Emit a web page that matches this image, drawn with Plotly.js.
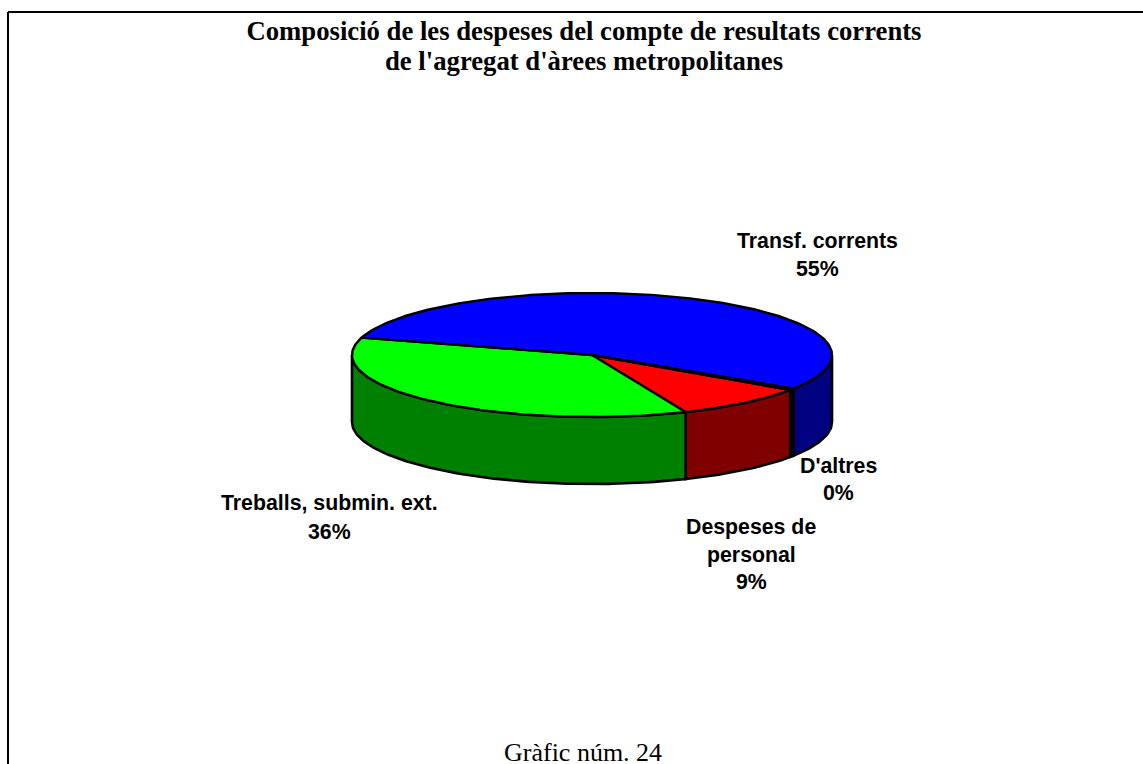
<!DOCTYPE html>
<html>
<head>
<meta charset="utf-8">
<script src="https://cdn.plot.ly/plotly-3.0.1.min.js"></script>
<style>html,body{margin:0;padding:0;background:#fff}#chart{width:1143px;height:764px}</style>
</head>
<body>
<div id="chart"></div>
<script>
// Data (slice order runs clockwise from the Despeses edge)
const categories = ["Despeses de personal", "Treballs, submin. ext.", "Transf. corrents", "D'altres"];
const values = [9.1, 35.9, 54.6, 0.4];
const topColors = ["#ff0000", "#00ff00", "#0000ff", "#ffff00"];
const sideColors = ["#800000", "#008000", "#000080", "#808000"];
const labelLines = [["Despeses de", "personal"], ["Treballs, submin. ext."], ["Transf. corrents"], ["D'altres"]];
const labelX = [751, 329, 817, 838];
const labelY = [[527, 555, 582], [503, 532], [241, 269], [466, 493]];
const titleLines = ["Composició de les despeses del compte de resultats corrents", "de l'agregat d'àrees metropolitanes"];
const footerText = "Gràfic núm. 24";

// Pie projection in the axis units
const cx = 592, cy = 355, rx = 240, ry = 62, depth = 67, startDeg = 34.3;
const total = values.reduce((a, b) => a + b, 0);
const rad = d => d * Math.PI / 180;
function arc(a0, a1, dy) {
  const n = Math.max(2, Math.ceil(Math.abs(a1 - a0)));
  const xs = [], ys = [];
  for (let i = 0; i <= n; i++) {
    const t = rad(a0 + (a1 - a0) * i / n);
    xs.push(cx + rx * Math.cos(t));
    ys.push(cy + ry * Math.sin(t) + dy);
  }
  return {xs, ys};
}
const sideTraces = [], topTraces = [];
let a = startDeg;
values.forEach((v, i) => {
  const a0 = a, a1 = a + v / total * 360;
  a = a1;
  // visible wall pieces: the front half of the rim, t in [0,180] and [360,540]
  [[0, 180], [360, 540]].forEach(([lo, hi]) => {
    const s = Math.max(a0, lo), e = Math.min(a1, hi);
    if (e > s) {
      const top = arc(s, e, 0), bot = arc(e, s, depth);
      sideTraces.push({
        type: "scatter", mode: "lines", name: categories[i], showlegend: false, hoverinfo: "name",
        x: top.xs.concat(bot.xs, [top.xs[0]]), y: top.ys.concat(bot.ys, [top.ys[0]]),
        fill: "toself", fillcolor: i === 3 ? "#000" : sideColors[i], line: {color: "#000", width: 2.6}
      });
    }
  });
  const r = arc(a0, a1, 0);
  topTraces.push({
    type: "scatter", mode: "lines", name: categories[i], showlegend: false, hoverinfo: "name",
    x: [cx].concat(r.xs, [cx]), y: [cy].concat(r.ys, [cy]),
    fill: "toself", fillcolor: i === 3 ? "#000" : topColors[i], line: {color: "#000", width: 2.4}
  });
});

const annotations = [];
const sansFont = {family: "Liberation Sans, Arial, sans-serif", size: 21.3, color: "#000"};
categories.forEach((c, i) => {
  const lines = labelLines[i].concat([Math.round(values[i] / total * 100) + "%"]);
  lines.forEach((t, j) => annotations.push({
    x: labelX[i], y: labelY[i][j], xref: "x", yref: "y", text: "<b>" + t + "</b>",
    showarrow: false, xanchor: "center", yanchor: "middle", font: sansFont
  }));
});
const serif = "Liberation Serif, Times New Roman, serif";
annotations.push({
  x: 584, y: 61, xref: "x", yref: "y", text: "<b>" + titleLines[1] + "</b>", showarrow: false,
  xanchor: "center", yanchor: "middle", font: {family: serif, size: 26.7, color: "#000"}
});
annotations.push({
  x: 583, y: 752, xref: "x", yref: "y", text: footerText, showarrow: false,
  xanchor: "center", yanchor: "middle", font: {family: serif, size: 26, color: "#000"}
});

const hidden = {visible: false, fixedrange: true};
const layout = {
  width: 1143, height: 764, margin: {l: 0, r: 0, t: 0, b: 0},
  paper_bgcolor: "#fff", plot_bgcolor: "#fff", showlegend: false,
  title: {
    text: "<b>" + titleLines[0] + "</b>", x: 584 / 1143, xanchor: "center", y: 1 - 31 / 764, yanchor: "middle",
    font: {family: serif, size: 26.7, color: "#000"}
  },
  xaxis: Object.assign({range: [0, 1143]}, hidden),
  yaxis: Object.assign({range: [764, 0]}, hidden),
  annotations,
  shapes: [
    {type: "line", xref: "x", yref: "y", x0: 8, x1: 8, y0: 12, y1: 764, line: {color: "#000", width: 2}},
    {type: "line", xref: "x", yref: "y", x0: 8, x1: 1143, y0: 12, y1: 12, line: {color: "#000", width: 2}}
  ]
};
Plotly.newPlot("chart", sideTraces.concat(topTraces), layout, {displayModeBar: false, staticPlot: true});
</script>
</body>
</html>
